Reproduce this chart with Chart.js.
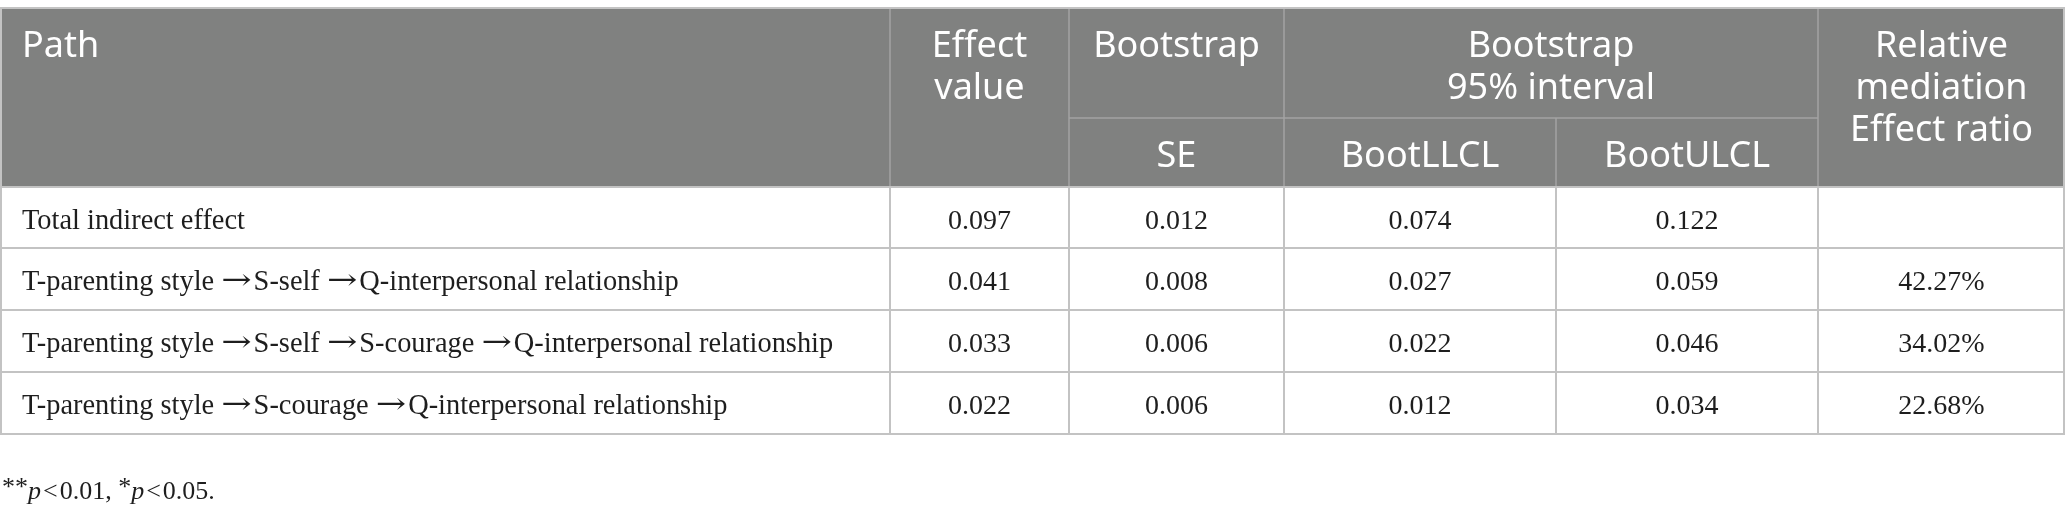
<!DOCTYPE html>
<html>
<head>
<meta charset="utf-8">
<script src="https://cdn.jsdelivr.net/npm/chart.js@4.4.1/dist/chart.umd.min.js"></script>
<style>
  html, body { margin: 0; padding: 0; background: #fff; }
  #wrap { position: relative; width: 2065px; height: 518px; }
</style>
</head>
<body>
<div id="wrap"><canvas id="table"></canvas></div>
<script>
// table content
const headerTop = [['Path'], ['Effect', 'value'], ['Bootstrap'], ['Bootstrap', '95% interval'], ['Relative', 'mediation', 'Effect ratio']];
const subHeaders = ['SE', 'BootLLCL', 'BootULCL'];
const paths = [
  'Total indirect effect',
  'T-parenting style \u2192S-self \u2192Q-interpersonal relationship',
  'T-parenting style \u2192S-self \u2192S-courage \u2192Q-interpersonal relationship',
  'T-parenting style \u2192S-courage \u2192Q-interpersonal relationship'
];
const effectValues = [0.097, 0.041, 0.033, 0.022];
const seValues = [0.012, 0.008, 0.006, 0.006];
const bootLLCL = [0.074, 0.027, 0.022, 0.012];
const bootULCL = [0.122, 0.059, 0.046, 0.034];
const effectRatio = [null, 42.27, 34.02, 22.68];

// layout (pixels on the 2065 x 518 scale)
const colEdges = [0, 890, 1069, 1284, 1556, 1818, 2065];
const rowEdges = [8, 118, 187, 248, 310, 372, 434];
const headFont = '36px "Noto Sans", sans-serif';
const pathFont = '28.4px "Liberation Serif", serif';
const numFont = '28px "Liberation Serif", serif';
const arrowFont = '29px "DejaVu Serif", serif';
const noteSize = 26;

const mid = (a, b) => (a + b) / 2;

// one point per body cell, placed at the cell centre
const cells = [];
paths.forEach((p, r) => {
  const yc = mid(rowEdges[r + 2], rowEdges[r + 3]);
  cells.push({ x: 22, y: yc, text: p, align: 'left' });
  const vals = [
    effectValues[r].toFixed(3),
    seValues[r].toFixed(3),
    bootLLCL[r].toFixed(3),
    bootULCL[r].toFixed(3),
    effectRatio[r] == null ? '' : effectRatio[r].toFixed(2) + '%'
  ];
  vals.forEach((v, c) => {
    cells.push({ x: mid(colEdges[c + 1], colEdges[c + 2]), y: yc, text: v, align: 'center' });
  });
});

// left-aligned path text; arrows drawn a bit wider, as in the source table
function drawPath(ctx, text, x, y) {
  const bits = text.split('\u2192');
  let cx = x;
  bits.forEach((b, i) => {
    if (i > 0) {
      ctx.font = arrowFont;
      const w = ctx.measureText('\u2192').width;
      ctx.save();
      ctx.translate(cx, y - 1);
      ctx.scale(1.25, 1);
      ctx.fillText('\u2192', 0, 0);
      ctx.restore();
      cx += w * 1.25 + 2;
    }
    ctx.font = pathFont;
    ctx.fillText(b, cx, y);
    cx += ctx.measureText(b).width;
  });
}

const tablePlugin = {
  id: 'tablePlugin',
  beforeDatasetsDraw(chart) {
    const { ctx, scales: { x, y } } = chart;
    const X = v => x.getPixelForValue(v);
    const Y = v => y.getPixelForValue(v);
    ctx.save();
    // header background
    ctx.fillStyle = '#808180';
    ctx.fillRect(X(0), Y(rowEdges[0]), X(2065) - X(0), Y(rowEdges[2]) - Y(rowEdges[0]));

    // header inner lines
    ctx.strokeStyle = '#a3a3a3';
    ctx.lineWidth = 1.5;
    ctx.beginPath();
    [1, 2, 3, 5].forEach(i => { ctx.moveTo(X(colEdges[i]), Y(rowEdges[0])); ctx.lineTo(X(colEdges[i]), Y(rowEdges[2])); });
    ctx.moveTo(X(colEdges[4]), Y(rowEdges[1])); ctx.lineTo(X(colEdges[4]), Y(rowEdges[2]));
    ctx.moveTo(X(colEdges[2]), Y(rowEdges[1])); ctx.lineTo(X(colEdges[5]), Y(rowEdges[1]));
    ctx.stroke();

    // outer border and body grid
    ctx.strokeStyle = '#c3c3c3';
    ctx.lineWidth = 2;
    ctx.beginPath();
    ctx.moveTo(X(0), Y(rowEdges[0])); ctx.lineTo(X(2065), Y(rowEdges[0]));
    for (let r = 2; r < rowEdges.length; r++) {
      ctx.moveTo(X(0), Y(rowEdges[r])); ctx.lineTo(X(2065), Y(rowEdges[r]));
    }
    colEdges.forEach((c, i) => {
      const cx = i === 0 ? X(c) + 1 : (i === colEdges.length - 1 ? X(c) - 1 : X(c));
      ctx.moveTo(cx, Y(i === 0 || i === colEdges.length - 1 ? rowEdges[0] : rowEdges[2]));
      ctx.lineTo(cx, Y(rowEdges[rowEdges.length - 1]));
    });
    ctx.stroke();

    // header text
    ctx.fillStyle = '#ffffff';
    ctx.font = headFont;
    ctx.textBaseline = 'alphabetic';
    const headX = [
      [22, 'left'],
      [mid(colEdges[1], colEdges[2]), 'center'],
      [mid(colEdges[2], colEdges[3]), 'center'],
      [mid(colEdges[3], colEdges[5]), 'center'],
      [mid(colEdges[5], colEdges[6]), 'center']
    ];
    headerTop.forEach((lines, i) => {
      ctx.textAlign = headX[i][1];
      lines.forEach((t, k) => ctx.fillText(t, X(headX[i][0]), Y(57 + k * 42)));
    });
    ctx.textAlign = 'center';
    subHeaders.forEach((t, i) => ctx.fillText(t, X(mid(colEdges[i + 2], colEdges[i + 3])), Y(167)));
    ctx.restore();
  },
  afterDatasetsDraw(chart) {
    const { ctx, scales: { x, y } } = chart;
    const meta = chart.getDatasetMeta(0);
    ctx.save();
    ctx.fillStyle = '#1e1e1e';
    ctx.textBaseline = 'alphabetic';
    meta.data.forEach((pt, i) => {
      const c = cells[i];
      ctx.textAlign = c.align;
      if (c.align === 'left') {
        drawPath(ctx, c.text, pt.x, pt.y + 11);
      } else {
        ctx.font = numFont;
        ctx.fillText(c.text, pt.x, pt.y + 11);
      }
    });

    // footnote: raised asterisks, italic p, small gaps round "<"
    const parts = [
      ['**', false, 0, -4], ['p', true, 2, 0], ['<', false, 2, 0], ['0.01, ', false, 0, 0],
      ['*', false, 0, -4], ['p', true, 2, 0], ['<', false, 2, 0], ['0.05.', false, 0, 0]
    ];
    let fx = x.getPixelForValue(2);
    const fy = y.getPixelForValue(499);
    ctx.textAlign = 'left';
    parts.forEach(([t, it, gap, dy]) => {
      ctx.font = (it ? 'italic ' : '') + noteSize + 'px "Liberation Serif", serif';
      ctx.fillText(t, fx, fy + dy);
      fx += ctx.measureText(t).width + gap;
    });
    ctx.restore();
  }
};

new Chart(document.getElementById('table'), {
  type: 'scatter',
  data: {
    datasets: [{
      data: cells.map(c => ({ x: c.x, y: c.y })),
      pointRadius: 0,
      pointHoverRadius: 0
    }]
  },
  options: {
    responsive: true,
    maintainAspectRatio: false,
    animation: false,
    events: [],
    layout: { padding: 0 },
    scales: {
      x: { type: 'linear', min: 0, max: 2065, display: false },
      y: { type: 'linear', min: 0, max: 518, reverse: true, display: false }
    },
    plugins: { legend: { display: false }, tooltip: { enabled: false } }
  },
  plugins: [tablePlugin]
});
</script>
</body>
</html>
